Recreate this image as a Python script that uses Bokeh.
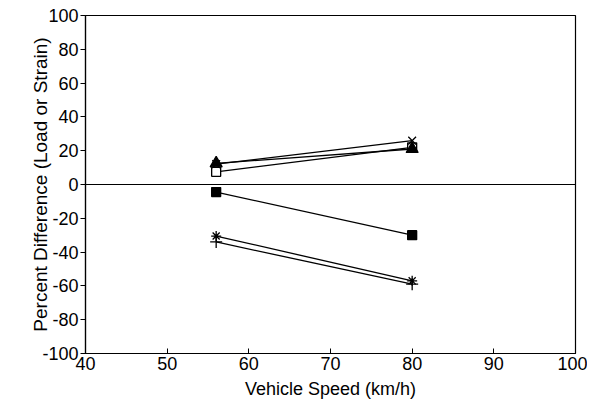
from bokeh.plotting import figure
from bokeh.models import Span, FixedTicker, Range1d
from bokeh.embed import file_html
from bokeh.resources import INLINE

speed = [56, 80]
tri_vals = [12.5, 21]
opensq_vals = [7.5, 22]
x_vals = [12, 26]
fillsq_vals = [-4.5, -30]
aster_vals = [-30.5, -57]
plus_vals = [-34, -59]

x_ticks = [40, 50, 60, 70, 80, 90, 100]
y_ticks = [-100, -80, -60, -40, -20, 0, 20, 40, 60, 80, 100]

FONT = "Liberation Sans"

p = figure(width=587, height=401, output_backend="svg", toolbar_location=None,
           x_range=Range1d(40, 100), y_range=Range1d(-100, 100),
           min_border_left=85, min_border_right=12, min_border_top=15, min_border_bottom=48)
p.xgrid.visible = False
p.ygrid.visible = False
p.outline_line_color = "black"
p.outline_line_width = 1.2
p.background_fill_color = "white"
p.border_fill_color = "white"

p.xaxis.ticker = FixedTicker(ticks=x_ticks)
p.yaxis.ticker = FixedTicker(ticks=y_ticks)
p.yaxis.major_label_overrides = {t: str(t) for t in y_ticks}
p.xaxis.major_label_overrides = {t: str(t) for t in x_ticks}
for ax in (p.xaxis, p.yaxis):
    ax.axis_line_color = "black"
    ax.axis_line_width = 1.2
    ax.major_tick_line_color = "black"
    ax.minor_tick_line_color = None
    ax.major_label_text_font = FONT
    ax.major_label_text_font_size = "18px"
    ax.major_label_text_color = "black"
    ax.axis_label_text_font = FONT
    ax.axis_label_text_font_style = "normal"
    ax.axis_label_text_color = "black"
p.xaxis.major_tick_in = 5
p.xaxis.major_tick_out = 0
p.yaxis.major_tick_in = 0
p.yaxis.major_tick_out = 5
p.xaxis.major_label_standoff = 3
p.yaxis.major_label_standoff = 2
p.xaxis.axis_label = "Vehicle Speed (km/h)"
p.yaxis.axis_label = "Percent Difference (Load or Strain)"
p.xaxis.axis_label_text_font_size = "18px"
p.yaxis.axis_label_text_font_size = "19px"
p.xaxis.axis_label_standoff = 6
p.yaxis.axis_label_standoff = -12

p.add_layout(Span(location=0, dimension="width", line_color="black", line_width=1.2))

series = [
    (opensq_vals, "square", "white", 9),
    (tri_vals, "triangle", "black", 12),
    (x_vals, "x", "black", 11),
    (fillsq_vals, "square", "black", 9),
    (aster_vals, "asterisk", "black", 10),
    (plus_vals, "cross", "black", 12),
]
for vals, marker, fill, size in series:
    p.line(speed, vals, line_color="black", line_width=1.3)
for vals, marker, fill, size in series:
    p.scatter(speed, vals, marker=marker, size=size, fill_color=fill,
              line_color="black", line_width=1.3)

open("out.html", "w").write(file_html(p, INLINE))
